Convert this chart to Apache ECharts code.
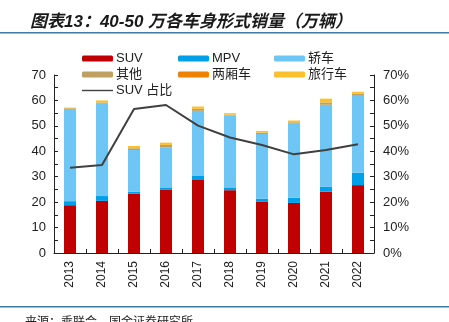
<!DOCTYPE html>
<html>
<head>
<meta charset="utf-8">
<script src="https://cdn.jsdelivr.net/npm/echarts@6/dist/echarts.min.js"></script>
<style>
  html, body { margin: 0; padding: 0; background: #fff; }
  #chart { width: 449px; height: 322px; }
</style>
</head>
<body>
<div id="chart"></div>
<script>
// 年份
const years = ['2013', '2014', '2015', '2016', '2017', '2018', '2019', '2020', '2021', '2022'];
// 销量（万辆）
const suv      = [18.8, 20.5, 23.4, 25.0, 28.7, 24.7, 20.1, 19.7, 24.1, 26.7];
const mpv      = [1.6, 1.9, 0.7, 0.8, 1.8, 1.1, 1.2, 2.0, 1.9, 4.9];
const sedan    = [35.9, 36.3, 16.4, 15.8, 25.4, 28.3, 25.5, 29.4, 32.3, 30.2];
const other    = [0.6, 0.5, 0.7, 0.9, 0.8, 0.3, 0.5, 0.3, 0.9, 0.8];
const hatch    = [0, 0, 0, 0, 0, 0, 0, 0, 0, 0];
const wagon    = [0.3, 0.8, 0.9, 0.9, 0.9, 0.6, 0.7, 0.7, 1.5, 0.8];
// SUV 占比（%）
const suvShare = [33.5, 34.6, 56.6, 58.2, 50.1, 45.4, 42.5, 38.8, 40.5, 42.8];

const leftTicks = [0, 10, 20, 30, 40, 50, 60, 70];

const font = 'Liberation Sans, Arial, sans-serif';
const cjk = '"Liberation Sans", "Noto Sans CJK SC", sans-serif';

const chart = echarts.init(document.getElementById('chart'), null, { renderer: 'canvas' });

const barSeries = (name, data, color) => ({
  name, type: 'bar', stack: 'total', data,
  barWidth: 12, yAxisIndex: 0,
  itemStyle: { color },
  emphasis: { disabled: true }
});

const legendBase = {
  orient: 'vertical', itemWidth: 31, itemHeight: 6, itemGap: 1,
  textStyle: { fontFamily: cjk, fontSize: 13, lineHeight: 15, color: '#222', padding: [0, 0, 0, -2] },
  padding: 0
};

// 折线图例：细线（用透明的 moveTo 撑开 31×6 的外框）
const lineIcon = 'path://M0,0 M31,6 M0,2.3 L31,2.3 L31,3.7 L0,3.7 Z';

chart.setOption({
  animation: false,
  title: {
    text: '图表13：40-50 万各车身形式销量（万辆）',
    left: 25, top: 9,
    textStyle: { fontFamily: cjk, fontSize: 17, fontWeight: 'bold', fontStyle: 'italic', color: '#1a1a1a' }
  },
  graphic: [
    { type: 'rect', shape: { x: 0, y: 32, width: 449, height: 1.5 }, style: { fill: '#3f7ba3' } },
    { type: 'rect', shape: { x: 0, y: 306, width: 449, height: 1.5 }, style: { fill: '#3f7ba3' } },
    { type: 'text', left: 25, top: 315,
      style: { text: '来源：乘联会，国金证券研究所', font: '12px "Noto Sans CJK SC", sans-serif', fill: '#222' } }
  ],
  legend: [
    Object.assign({}, legendBase, { left: 82, top: 51, data: ['SUV', '其他', { name: 'SUV 占比', icon: lineIcon, itemStyle: { color: '#404040' } }] }),
    Object.assign({}, legendBase, { left: 178, top: 51, data: ['MPV', '两厢车'] }),
    Object.assign({}, legendBase, { left: 274, top: 51, data: ['轿车', '旅行车'] })
  ],
  grid: { left: 54, right: 75, top: 75, bottom: 69, containLabel: false },
  xAxis: {
    type: 'category', data: years,
    axisLine: { lineStyle: { color: '#222', width: 1 } },
    axisTick: { show: true, inside: true, length: 4, alignWithLabel: false, lineStyle: { color: '#222' } },
    axisLabel: { rotate: 90, fontFamily: font, fontSize: 12, color: '#222', margin: 8 }
  },
  yAxis: [
    {
      type: 'value', min: leftTicks[0], max: leftTicks[leftTicks.length - 1], interval: 10,
      splitLine: { show: false },
      axisLine: { show: true, lineStyle: { color: '#222' } },
      axisTick: { show: true, inside: true, length: 4, lineStyle: { color: '#222' } },
      minorTick: { show: true, splitNumber: 2, length: 4, lineStyle: { color: '#222' } },
      axisLabel: { fontFamily: font, fontSize: 13, color: '#222', margin: 8 }
    },
    {
      type: 'value', min: 0, max: 70, interval: 10, position: 'right',
      splitLine: { show: false },
      axisLine: { show: true, lineStyle: { color: '#222' } },
      axisTick: { show: true, inside: true, length: 4, lineStyle: { color: '#222' } },
      minorTick: { show: true, splitNumber: 2, length: 4, lineStyle: { color: '#222' } },
      axisLabel: { fontFamily: font, fontSize: 13, color: '#222', margin: 9, formatter: '{value}%' }
    }
  ],
  series: [
    barSeries('SUV', suv, '#c00000'),
    barSeries('MPV', mpv, '#00a0e9'),
    barSeries('轿车', sedan, '#6ec6f5'),
    barSeries('其他', other, '#c0a060'),
    barSeries('两厢车', hatch, '#ef8200'),
    barSeries('旅行车', wagon, '#fbc02d'),
    {
      name: 'SUV 占比', type: 'line', yAxisIndex: 1, data: suvShare,
      symbol: 'none', lineStyle: { color: '#404040', width: 2 },
      itemStyle: { color: '#404040' },
      emphasis: { disabled: true }
    }
  ]
});
</script>
</body>
</html>
